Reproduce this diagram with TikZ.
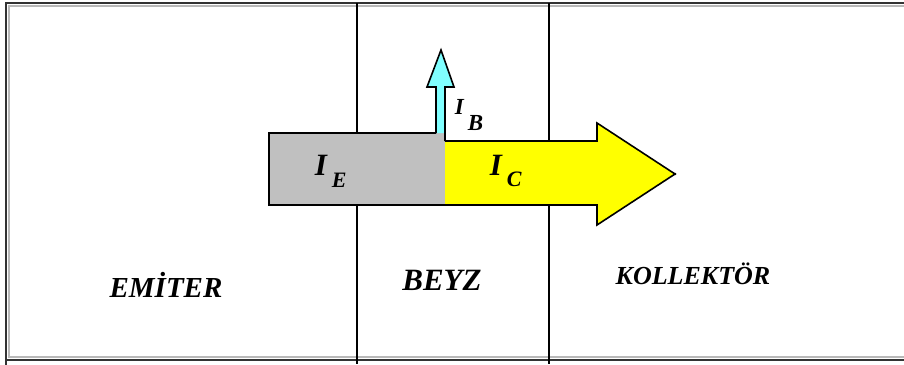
\documentclass[tikz,border=0pt]{standalone}
\usepackage{fontspec}
\setmainfont{Liberation Serif}
\definecolor{emgray}{HTML}{C0C0C0}
\definecolor{bcyan}{HTML}{80FFFF}
\definecolor{cyel}{HTML}{FFFF00}
\begin{document}
\begin{tikzpicture}[x=1pt,y=-1pt,line width=1.6pt,line join=miter,
  region/.style={inner sep=0pt,anchor=base,font=\fontsize{29}{29}\selectfont\bfseries\itshape},
  curlbl/.style={inner sep=0pt,anchor=base west,font=\bfseries\itshape}]
\useasboundingbox (0,0) rectangle (904,364);
\fill[white] (0,0) rectangle (904,364);
% frame
\draw[gray!55,line width=1.8pt] (8.8,358) -- (8.8,5.8) -- (905,5.8);
\draw[gray!55,line width=1.8pt] (8.8,357) -- (905,357);
\draw[black!80,line width=2pt] (6,365) -- (6,3) -- (905,3);
\draw[black!80,line width=2pt] (5,359.6) -- (905,359.6);
% region borders
\draw (357,3) -- (357,364);
\draw (549,3) -- (549,364);
% emitter current (gray bar)
\fill[emgray] (269,133) rectangle (445,205);
% collector current (yellow arrow)
\fill[cyel] (445,141) -- (597,141) -- (597,123) -- (675,174) -- (597,225) -- (597,205) -- (445,205) -- cycle;
% base current (cyan arrow)
\fill[bcyan] (436,133) -- (436,87) -- (427,87) -- (441,50) -- (454,87) -- (445,87) -- (445,133) -- cycle;
% outlines
\draw (436,133) -- (269,133) -- (269,205) -- (597,205) -- (597,225) -- (675,174) -- (597,123) -- (597,141) -- (445,141);
\draw (436,133) -- (436,87) -- (427,87) -- (441,50) -- (454,87) -- (445,87) -- (445,141);
\fill (675,174) circle (1.4pt);
% current labels
\node[curlbl] (ie) at (314,175) {\fontsize{31}{31}\selectfont I\kern5pt\raisebox{-12pt}{\fontsize{22}{22}\selectfont E}};
\node[curlbl] (ic) at (489,175) {\fontsize{31}{31}\selectfont I\kern5pt\raisebox{-11pt}{\fontsize{22}{22}\selectfont C}};
\node[curlbl] (ib) at (454,114) {\fontsize{23}{23}\selectfont I\kern4pt\raisebox{-16pt}{\fontsize{23}{23}\selectfont B}};
% region labels
\node[region] (em) at (166,297) {EMİTER};
\node[region,font=\fontsize{31}{31}\selectfont\bfseries\itshape] (bz) at (442,290) {BEYZ};
\node[region,font=\fontsize{26}{26}\selectfont\bfseries\itshape] (kol) at (693,284) {KOLLEKTÖR};
\end{tikzpicture}
\end{document}
